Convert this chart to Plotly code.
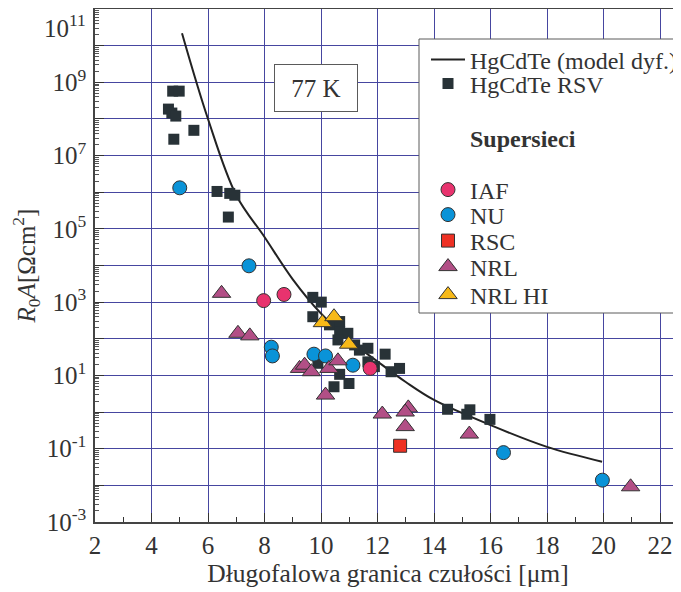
import math
import plotly.graph_objects as go

# ---------------- data ----------------
model_x = [5.08, 6.0, 7.0, 8.0, 9.0, 10.0, 11.0, 12.0, 13.0, 14.0, 16.0, 18.0, 19.95]
model_y = [2.19e10, 1.0e8, 8.3e5, 6.0e4, 4.2e3, 490, 93, 24, 6.6, 2.14, 0.44, 0.112, 0.044]

rsv_x = [4.75, 4.98, 4.60, 4.72, 4.86, 5.50, 4.79, 6.32, 6.77, 6.95, 6.72,
         9.71, 10.01, 9.71, 10.30, 10.66, 10.66, 10.95, 10.60, 11.19, 11.36, 11.66,
         12.27, 11.66, 11.89, 12.48, 12.78, 9.89, 10.66, 10.99, 10.46,
         14.48, 15.16, 15.27, 15.98]
rsv_y = [5.75e8, 5.75e8, 1.86e8, 1.45e8, 1.2e8, 4.9e7, 2.8e7, 1.05e6, 9.3e5, 8.3e5, 2.1e5,
         1350, 1000, 400, 240, 295, 155, 141, 93, 68, 49, 55,
         38, 23.4, 17.4, 12.6, 15.5, 21.4, 10.7, 6.0, 4.9,
         1.19, 0.87, 1.15, 0.63]

iaf_x = [7.97, 8.69, 11.74]
iaf_y = [1100, 1620, 15.5]

nu_x = [5.0, 7.45, 8.24, 8.28, 9.75, 10.16, 11.13, 16.46, 19.96]
nu_y = [1.32e6, 9800, 59, 34, 38, 34, 19, 0.078, 0.0138]

rsc_x = [12.80]
rsc_y = [0.12]

nrl_x = [6.48, 7.06, 7.48, 9.24, 9.42, 9.66, 10.28, 10.60, 10.16, 12.17, 13.09, 12.98, 12.98, 15.25, 20.96]
nrl_y = [1740, 141, 120, 15.5, 19, 12.6, 15.5, 25, 2.9, 0.88, 1.3, 1.0, 0.40, 0.25, 0.0091]

nrlhi_x = [10.05, 10.46, 10.98]
nrlhi_y = [275, 400, 71]

x_ticks = list(range(2, 23, 2))
y_exps = list(range(-3, 12))
y_ticktext = ["10<sup>%d</sup>" % e if (e % 2 != 0 and e < 11) else "" for e in y_exps]
y_top_label = "10<sup>11</sup>"

# ---------------- geometry (the page body has an 8px margin) ----------------
OFF = 8
W, H = 681 - OFF, 592 - OFF
PL, PT, PR, PB = 95, 9, 681, 522          # plot area in page pixels
ML, MT = PL - OFF, PT - OFF
MB = H - (PB - OFF)
PW, PH = PR - PL, PB - PT
X0, X1 = 2.0, 2 + 20 * PW / 565.0
Y0, Y1 = -3.002, 11.002


def px(xp):
    return (xp - PL) / PW


def py(yp):
    return (PB - yp) / PH


def data_x(xp):
    return X0 + px(xp) * (X1 - X0)


def data_y(yp):
    return 10 ** (Y0 + py(yp) * (Y1 - Y0))


FONT = "Liberation Serif"
TXT = "#333333"
GRID = "#4646a0"
EDGE = "#333333"

fig = go.Figure()

series = [
    dict(x=model_x, y=model_y, mode="lines", line=dict(color="#222222", width=2, shape="spline"),
         name="HgCdTe (model dyf.)"),
    dict(x=rsv_x, y=rsv_y, mode="markers",
         marker=dict(symbol="square", size=11, color="#283237", line=dict(width=0)),
         name="HgCdTe RSV"),
    dict(x=[None], y=[None], mode="markers", marker=dict(size=1, color="rgba(0,0,0,0)"),
         name="<b>Supersieci</b>"),
    dict(x=iaf_x, y=iaf_y, mode="markers",
         marker=dict(symbol="circle", size=14, color="#e8336e", line=dict(width=1, color=EDGE)),
         name="IAF"),
    dict(x=nu_x, y=nu_y, mode="markers",
         marker=dict(symbol="circle", size=14, color="#0a93d8", line=dict(width=1, color=EDGE)),
         name="NU"),
    dict(x=rsc_x, y=rsc_y, mode="markers",
         marker=dict(symbol="square", size=13, color="#ee3124", line=dict(width=1, color=EDGE)),
         name="RSC"),
    dict(x=nrl_x, y=nrl_y, mode="markers",
         marker=dict(symbol="triangle-up", size=16, color="#b24f86", line=dict(width=1, color=EDGE)),
         name="NRL"),
    dict(x=nrlhi_x, y=nrlhi_y, mode="markers",
         marker=dict(symbol="triangle-up", size=16, color="#f7b918", line=dict(width=1, color=EDGE)),
         name="NRL HI"),
]
legend_rows = [60, 84, 138, 190, 215, 241, 267, 295]   # page y of each legend row

legend_layout = {}
for i, (s, yr) in enumerate(zip(series, legend_rows)):
    key = "legend" if i == 0 else "legend%d" % (i + 1)
    fig.add_trace(go.Scatter(legend=key, **s))
    legend_layout[key] = dict(x=px(426), y=py(yr), xanchor="left", yanchor="middle",
                              bgcolor="rgba(0,0,0,0)", borderwidth=0, itemwidth=34,
                              font=dict(family=FONT, size=24, color=TXT))

fig.update_layout(
    width=W, height=H,
    margin=dict(l=ML, r=0, t=MT, b=MB, autoexpand=False),
    paper_bgcolor="white", plot_bgcolor="white",
    font=dict(family=FONT, size=25, color=TXT),
    showlegend=True,
    xaxis=dict(range=[X0, X1], tickvals=x_ticks, ticks="inside", ticklen=9, tickcolor="#333",
               showgrid=True, gridcolor=GRID, gridwidth=1, automargin=False,
               showline=True, linecolor="#444", linewidth=1.5, mirror=True, zeroline=False,
               minor=dict(dtick=1, tick0=2, ticks="inside", ticklen=5, tickcolor="#333", showgrid=False),
               tickfont=dict(size=25), ticklabeloverflow="allow",
               title=dict(text="Długofalowa granica czułości [μm]", font=dict(size=25.5), standoff=6)),
    yaxis=dict(type="log", range=[Y0, Y1], tickvals=[10.0 ** e for e in y_exps], ticktext=y_ticktext,
               ticks="inside", ticklen=9, tickcolor="#333", automargin=False,
               showgrid=True, gridcolor=GRID, gridwidth=1,
               showline=True, linecolor="#444", linewidth=1.5, mirror=False, zeroline=False,
               minor=dict(ticks="inside", ticklen=4, tickcolor="#555", showgrid=False, dtick="D1"),
               tickfont=dict(size=25), ticklabelstandoff=2, ticklabeloverflow="allow",
               title=dict(text="<i>R</i><sub>0</sub><i>A</i>[Ωcm<sup>2</sup>]", font=dict(size=25), standoff=8)),
    **legend_layout,
)

# legend frame (white box over the grid, under the marks)
fig.add_shape(type="rect", xref="x", yref="y", x0=data_x(419), x1=data_x(700),
              y0=data_y(313), y1=data_y(39),
              fillcolor="white", line=dict(color="#5a5a5a", width=1), layer="between")

# top y tick label, nudged down to stay inside the page as in the original
fig.add_annotation(xref="paper", yref="paper", x=0, y=1, xanchor="right", yanchor="top",
                   xshift=-7, yshift=1, text=y_top_label, showarrow=False,
                   font=dict(family=FONT, size=25, color=TXT))

fig.add_annotation(xref="paper", yref="paper", x=px(316), y=py(88), xanchor="center", yanchor="middle",
                   text="77 K", showarrow=False, font=dict(family=FONT, size=25, color=TXT),
                   width=64, height=28, bgcolor="white", bordercolor="#5a5a5a", borderwidth=1, borderpad=9)

fig.write_html("out.html")
